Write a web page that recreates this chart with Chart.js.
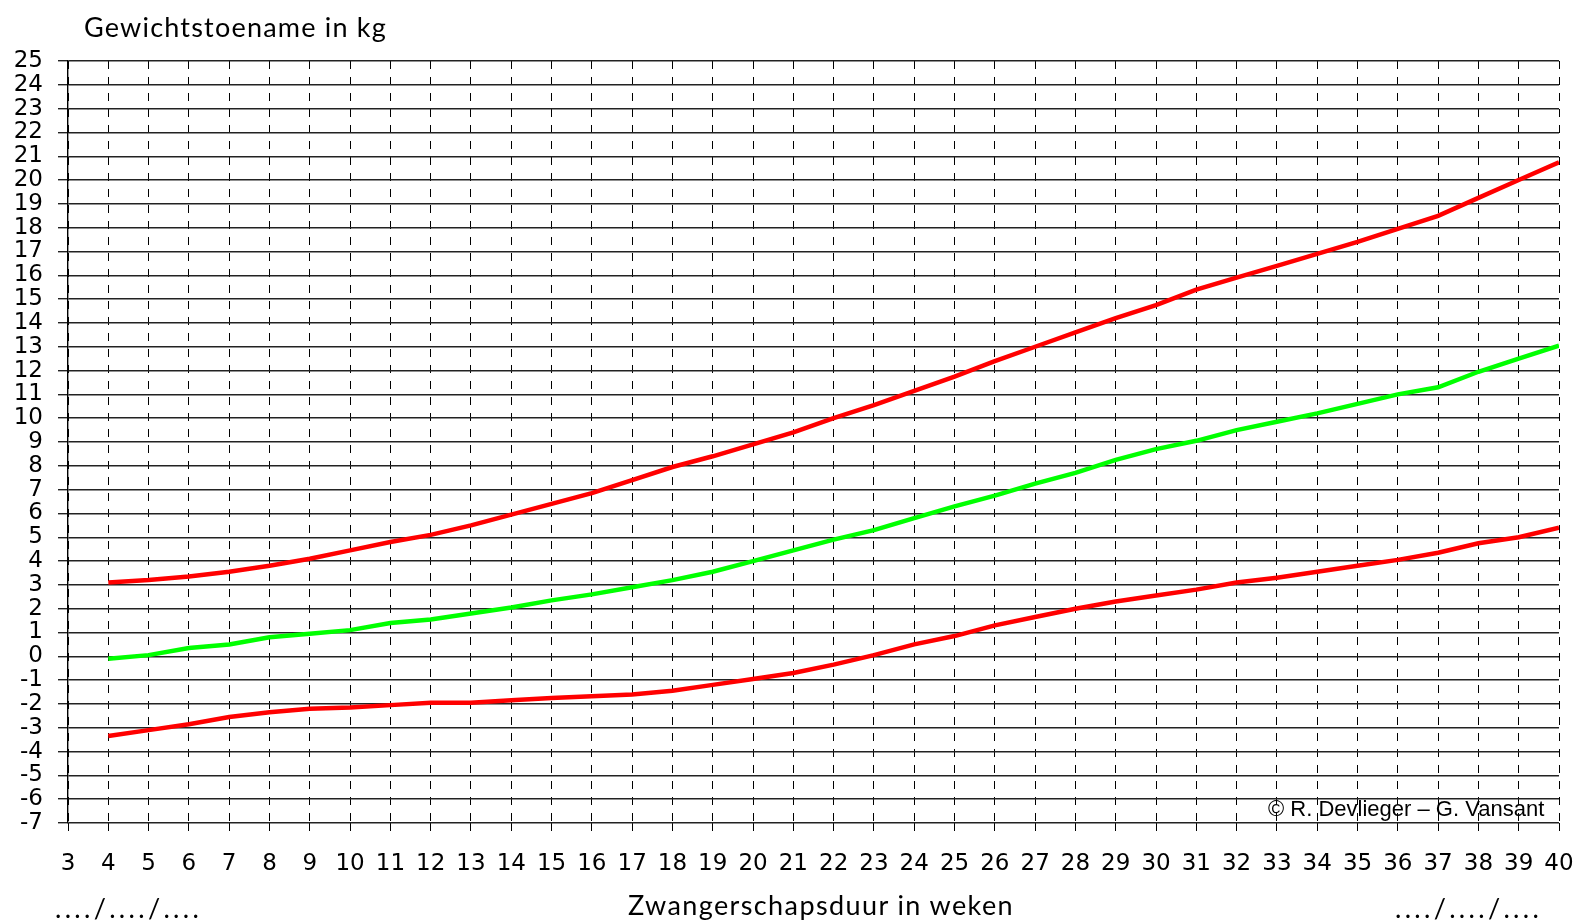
<!DOCTYPE html>
<html>
<head>
<meta charset="utf-8">
<script src="https://cdn.jsdelivr.net/npm/chart.js@4"></script>
<style>
  body { margin: 0; background: #fff; overflow: hidden; }
  #wrap { position: relative; width: 1575px; height: 922px; }
  .lbl { position: absolute; white-space: nowrap; line-height: 1; color: #000; }
  .gill { font-family: Lato, "Open Sans", sans-serif; font-size: 27px; }
  .arial { font-family: "Liberation Sans", Arial, sans-serif; }
</style>
</head>
<body>
<div id="wrap">
  <canvas id="chart" width="1575" height="922"></canvas>
  <div class="lbl gill" style="left:84px; top:13px; letter-spacing:1.2px;">Gewichtstoename in kg</div>
  <div class="lbl gill" style="left:628px; top:891px; letter-spacing:1.4px;">Zwangerschapsduur in weken</div>
  <div class="lbl gill" style="left:55px; top:894px; letter-spacing:3.3px;">..../..../....</div>
  <div class="lbl gill" style="left:1395px; top:894px; letter-spacing:3.3px;">..../..../....</div>
  <div class="lbl arial" style="left:1268px; top:798px; font-size:22px;">© R. Devlieger – G. Vansant</div>
</div>
<script>
// weeks of pregnancy (x) and weight gain in kg (y)
const weeks = [4, 5, 6, 7, 8, 9, 10, 11, 12, 13, 14, 15, 16, 17, 18, 19, 20, 21, 22,
  23, 24, 25, 26, 27, 28, 29, 30, 31, 32, 33, 34, 35, 36, 37, 38, 39, 40];

const upperLimit = [3.1, 3.2, 3.35, 3.55, 3.8, 4.1, 4.45, 4.8, 5.1, 5.5, 5.95, 6.4, 6.85,
  7.4, 7.95, 8.4, 8.9, 9.4, 10.0, 10.55, 11.15, 11.75, 12.4, 13.0, 13.6, 14.2, 14.75,
  15.4, 15.9, 16.4, 16.9, 17.4, 17.95, 18.5, 19.25, 20.0, 20.75];

const median = [-0.1, 0.05, 0.35, 0.5, 0.8, 0.95, 1.1, 1.4, 1.55, 1.8, 2.05, 2.35, 2.6,
  2.9, 3.2, 3.55, 4.0, 4.45, 4.9, 5.3, 5.8, 6.3, 6.75, 7.25, 7.7, 8.25, 8.7,
  9.05, 9.5, 9.85, 10.2, 10.6, 11.0, 11.3, 11.95, 12.5, 13.05];

const lowerLimit = [-3.35, -3.1, -2.85, -2.55, -2.35, -2.2, -2.15, -2.05, -1.95, -1.95,
  -1.85, -1.75, -1.68, -1.6, -1.45, -1.2, -0.95, -0.7, -0.35, 0.05, 0.5, 0.85, 1.3,
  1.65, 2.0, 2.3, 2.55, 2.8, 3.1, 3.3, 3.55, 3.8, 4.05, 4.35, 4.75, 5.0, 5.4];

const toPoints = (vals) => weeks.map((w, i) => ({ x: w, y: vals[i] }));

const lineStyle = (color) => ({
  borderColor: color,
  borderWidth: 4.5,
  pointRadius: 0,
  tension: 0,
  fill: false
});

const tickFont = { family: '"DejaVu Sans", Arial, sans-serif', size: 23 };

const ctx = document.getElementById('chart').getContext('2d');
new Chart(ctx, {
  type: 'line',
  data: {
    datasets: [
      { label: 'boven', data: toPoints(upperLimit), ...lineStyle('#ff0000') },
      { label: 'mediaan', data: toPoints(median), ...lineStyle('#00ff00') },
      { label: 'onder', data: toPoints(lowerLimit), ...lineStyle('#ff0000') }
    ]
  },
  options: {
    responsive: false,
    animation: false,
    devicePixelRatio: 1,
    layout: { padding: { top: 61, right: 16, bottom: 0, left: 10 } },
    plugins: { legend: { display: false }, tooltip: { enabled: false } },
    scales: {
      x: {
        type: 'linear',
        min: 3,
        max: 40,
        grid: { color: '#000', lineWidth: 1, tickLength: 8, tickColor: '#000' },
        border: { display: false, dash: [8, 8] },
        ticks: {
          stepSize: 1,
          autoSkip: false,
          maxRotation: 0,
          padding: 19,
          color: '#000',
          font: tickFont
        },
        afterFit: (scale) => {
          scale.height = 99;
          scale.paddingLeft = 0;
          scale.paddingRight = 0;
        }
      },
      y: {
        min: -7,
        max: 25,
        grid: { color: '#222', lineWidth: 1.4, tickLength: 10 },
        border: { display: true, color: '#000', width: 1.4 },
        ticks: {
          stepSize: 1,
          autoSkip: false,
          padding: 15,
          color: '#000',
          font: tickFont
        },
        afterFit: (scale) => {
          scale.width = 58;
          scale.paddingTop = 0;
          scale.paddingBottom = 0;
        }
      }
    }
  }
});
</script>
</body>
</html>
